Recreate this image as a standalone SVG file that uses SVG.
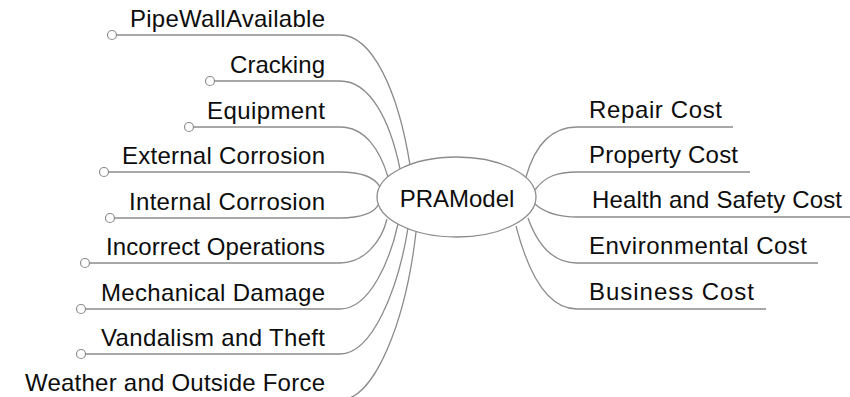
<svg xmlns="http://www.w3.org/2000/svg" width="850" height="397" viewBox="0 0 850 397">
<style>
.c{fill:none;stroke:#8c8c8c;stroke-width:1.3}
.d{fill:#fff;stroke:#8c8c8c;stroke-width:1.2}
.t{font-family:"Liberation Sans",Arial,sans-serif;font-size:24px;fill:#0d0d0d}
.l{text-anchor:end}
.r{text-anchor:start}
.m{text-anchor:middle}
</style>
<rect width="850" height="397" fill="#fff"/>
<g id="connectors">
<path class="c" d="M116.5 35 H340 C372 35 398 90 410 165"/>
<path class="c" d="M214.5 81 H340 C370 81 390 120 400 169"/>
<path class="c" d="M193.5 127 H340 C365 127 380 150 388 177"/>
<path class="c" d="M108.5 172 H340 C362 172 375 178 380 187"/>
<path class="c" d="M114.5 218 H340 C362 218 375 212 378 205"/>
<path class="c" d="M89.5 263 H340 C365 263 382 240 387 219"/>
<path class="c" d="M85.5 309 H340 C370 309 390 260 398 224"/>
<path class="c" d="M85.5 354 H340 C372 354 398 290 408 228"/>
<path class="c" d="M300 400 H340 C375 400 406 320 416 232"/>
<path class="c" d="M526 177 C535 145 552 127 577 127 H733"/>
<path class="c" d="M535 190 C545 176 558 172 577 172 H750"/>
<path class="c" d="M535 204 C545 213 558 217 577 217 H850"/>
<path class="c" d="M528 218 C538 246 553 263 577 263 H818"/>
<path class="c" d="M516 226 C529 276 548 309 577 309 H766"/>
</g>
<g id="root">
<ellipse cx="456.5" cy="197" rx="79.5" ry="40" class="d" style="stroke-width:1.3"/>
<text class="t m" x="457" y="207">PRAModel</text>
</g>
<g id="n-pipewall"><circle class="d" cx="112" cy="35" r="4.5"/><text class="t l" x="325" y="26.5" textLength="195" lengthAdjust="spacing">PipeWallAvailable</text></g>
<g id="n-cracking"><circle class="d" cx="210" cy="81" r="4.5"/><text class="t l" x="325" y="72.5" textLength="95" lengthAdjust="spacing">Cracking</text></g>
<g id="n-equipment"><circle class="d" cx="189" cy="127" r="4.5"/><text class="t l" x="325" y="118.5" textLength="118" lengthAdjust="spacing">Equipment</text></g>
<g id="n-external"><circle class="d" cx="104" cy="172" r="4.5"/><text class="t l" x="325" y="163.5" textLength="203" lengthAdjust="spacing">External Corrosion</text></g>
<g id="n-internal"><circle class="d" cx="110" cy="218" r="4.5"/><text class="t l" x="325" y="209.5" textLength="196" lengthAdjust="spacing">Internal Corrosion</text></g>
<g id="n-incorrect"><circle class="d" cx="85" cy="263" r="4.5"/><text class="t l" x="325" y="254.5" textLength="219" lengthAdjust="spacing">Incorrect Operations</text></g>
<g id="n-mechanical"><circle class="d" cx="81" cy="309" r="4.5"/><text class="t l" x="325" y="300.5" textLength="224" lengthAdjust="spacing">Mechanical Damage</text></g>
<g id="n-vandalism"><circle class="d" cx="81" cy="354" r="4.5"/><text class="t l" x="325" y="345.5" textLength="224" lengthAdjust="spacing">Vandalism and Theft</text></g>
<g id="n-weather"><text class="t l" x="325" y="391" textLength="300" lengthAdjust="spacing">Weather and Outside Force</text></g>
<g id="n-repair"><text class="t r" x="589" y="118" textLength="133" lengthAdjust="spacing">Repair Cost</text></g>
<g id="n-property"><text class="t r" x="589" y="163" textLength="149" lengthAdjust="spacing">Property Cost</text></g>
<g id="n-health"><text class="t r" x="592" y="208" textLength="250" lengthAdjust="spacing">Health and Safety Cost</text></g>
<g id="n-environmental"><text class="t r" x="589" y="254" textLength="218" lengthAdjust="spacing">Environmental Cost</text></g>
<g id="n-business"><text class="t r" x="589" y="300" textLength="165" lengthAdjust="spacing">Business Cost</text></g>
</svg>
